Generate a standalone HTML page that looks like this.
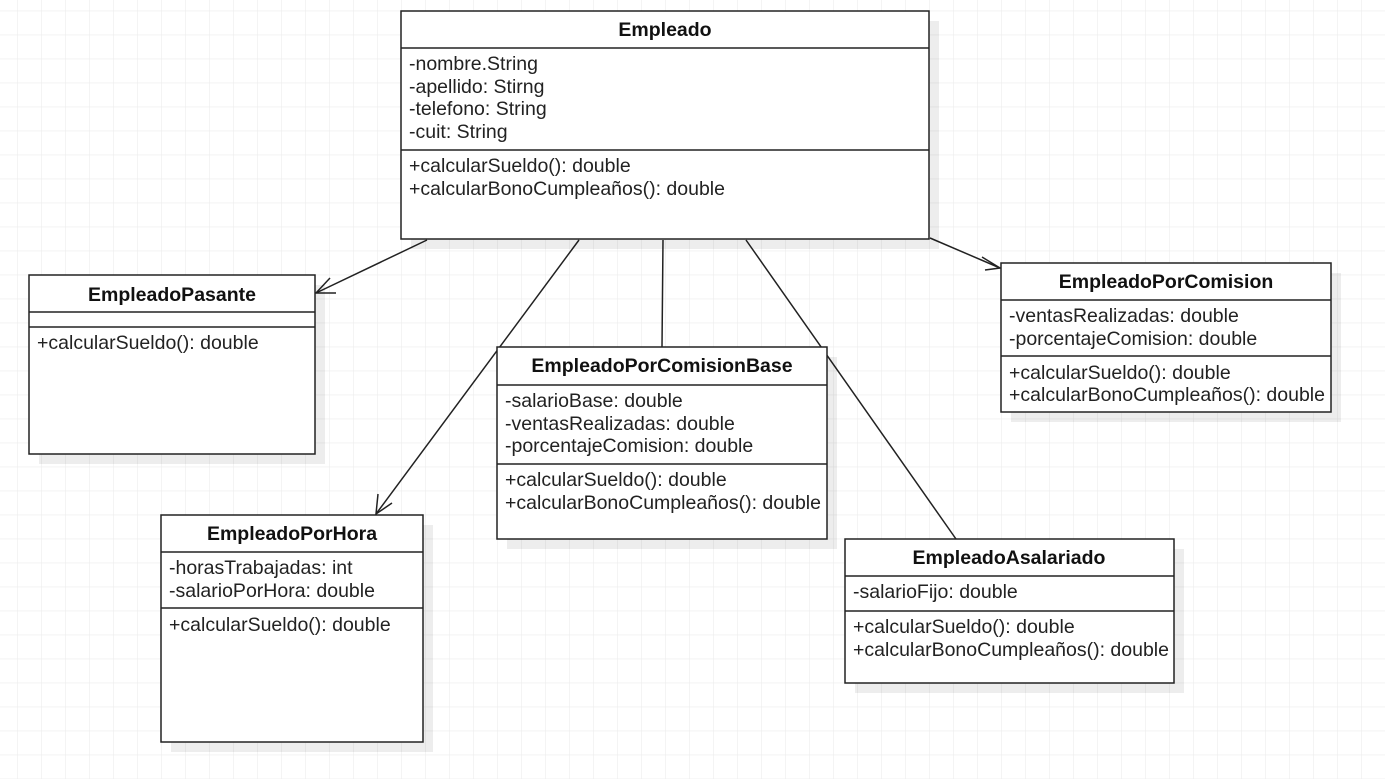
<!DOCTYPE html>
<html><head><meta charset="utf-8"><style>
html,body{margin:0;padding:0;background:#fff}
svg{display:block}
text{font-family:"Liberation Sans",Arial,sans-serif;font-size:19.5px;fill:#222}
.t{font-weight:bold;text-anchor:middle;fill:#111}
.b{fill:#fff;stroke:#222;stroke-width:1.5}
.s{fill:#000;fill-opacity:0.07}
.l{stroke:#222;stroke-width:1.5;fill:none}
</style></head><body>
<svg width="1385" height="779" viewBox="0 0 1385 779" xmlns="http://www.w3.org/2000/svg">
<defs>
<pattern id="g" x="17" y="10.7" width="24" height="24" patternUnits="userSpaceOnUse">
<path d="M0 0H24M0 0V24" stroke="#e9e9e9" stroke-width="1" fill="none"/>
</pattern>
</defs>
<rect width="1385" height="779" fill="url(#g)"/>

<path class="l" d="M427 240L316 293M579 240L376 514M663 240L662 347M746 240L956 539M930 238L1000 268"/>
<path class="l" d="M330 278L316 293L336 293"/>
<path class="l" d="M378 494L376 514L392 503"/>
<path class="l" d="M982 257L1000 268L985 270"/>

<rect class="s" x="411" y="21" width="528" height="228"/>
<rect class="b" x="401" y="11" width="528" height="228"/>
<path class="l" d="M401 48H929M401 150H929"/>
<text class="t" x="665" y="36">Empleado</text>
<text x="409" y="70">-nombre.String</text>
<text x="409" y="93">-apellido: Stirng</text>
<text x="409" y="115">-telefono: String</text>
<text x="409" y="138">-cuit: String</text>
<text x="409" y="172">+calcularSueldo(): double</text>
<text x="409" y="195">+calcularBonoCumpleaños(): double</text>

<rect class="s" x="39" y="285" width="286" height="179"/>
<rect class="b" x="29" y="275" width="286" height="179"/>
<path class="l" d="M29 312H315M29 327H315"/>
<text class="t" x="172" y="301">EmpleadoPasante</text>
<text x="37" y="349">+calcularSueldo(): double</text>

<rect class="s" x="507" y="357" width="330" height="192"/>
<rect class="b" x="497" y="347" width="330" height="192"/>
<path class="l" d="M497 385H827M497 464H827"/>
<text class="t" x="662" y="372">EmpleadoPorComisionBase</text>
<text x="505" y="407">-salarioBase: double</text>
<text x="505" y="430">-ventasRealizadas: double</text>
<text x="505" y="452">-porcentajeComision: double</text>
<text x="505" y="486">+calcularSueldo(): double</text>
<text x="505" y="509">+calcularBonoCumpleaños(): double</text>

<rect class="s" x="1011" y="273" width="330" height="149"/>
<rect class="b" x="1001" y="263" width="330" height="149"/>
<path class="l" d="M1001 300H1331M1001 356H1331"/>
<text class="t" x="1166" y="288">EmpleadoPorComision</text>
<text x="1009" y="322">-ventasRealizadas: double</text>
<text x="1009" y="345">-porcentajeComision: double</text>
<text x="1009" y="379">+calcularSueldo(): double</text>
<text x="1009" y="401">+calcularBonoCumpleaños(): double</text>

<rect class="s" x="171" y="525" width="262" height="227"/>
<rect class="b" x="161" y="515" width="262" height="227"/>
<path class="l" d="M161 552H423M161 608H423"/>
<text class="t" x="292" y="540">EmpleadoPorHora</text>
<text x="169" y="574">-horasTrabajadas: int</text>
<text x="169" y="597">-salarioPorHora: double</text>
<text x="169" y="631">+calcularSueldo(): double</text>

<rect class="s" x="855" y="549" width="329" height="144"/>
<rect class="b" x="845" y="539" width="329" height="144"/>
<path class="l" d="M845 576H1174M845 611H1174"/>
<text class="t" x="1009" y="564">EmpleadoAsalariado</text>
<text x="853" y="598">-salarioFijo: double</text>
<text x="853" y="633">+calcularSueldo(): double</text>
<text x="853" y="656">+calcularBonoCumpleaños(): double</text>
</svg>
</body></html>
